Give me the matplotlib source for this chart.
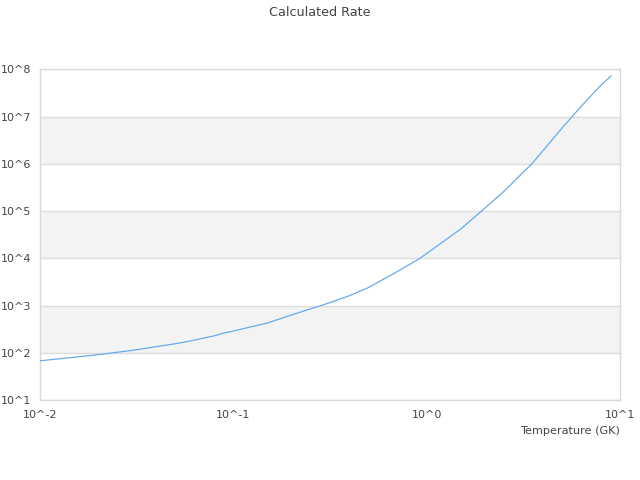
import matplotlib
matplotlib.use("Agg")
import matplotlib.pyplot as plt
import numpy as np

# Data
temperature = [0.01, 0.015, 0.02, 0.03, 0.04, 0.05, 0.06, 0.07, 0.08, 0.09,
               0.1, 0.15, 0.2, 0.3, 0.4, 0.5, 0.6, 0.7, 0.8, 0.9,
               1.0, 1.5, 2.0, 2.5, 3.0, 3.5, 4.0, 5.0, 6.0, 7.0, 8.0, 9.0]
log_rate = [1.83, 1.905, 1.96, 2.05, 2.13, 2.19, 2.25, 2.31, 2.36, 2.42,
            2.46, 2.63, 2.80, 3.03, 3.21, 3.38, 3.56, 3.71, 3.85, 3.97,
            4.10, 4.62, 5.06, 5.41, 5.73, 6.0, 6.28, 6.75, 7.12, 7.42, 7.67, 7.86]
rate = [10 ** v for v in log_rate]

xtick_values = [0.01, 0.1, 1, 10]
xtick_labels = ["10^-2", "10^-1", "10^0", "10^1"]
ytick_values = [1e1, 1e2, 1e3, 1e4, 1e5, 1e6, 1e7, 1e8]
ytick_labels = ["10^1", "10^2", "10^3", "10^4", "10^5", "10^6", "10^7", "10^8"]

title = "Calculated Rate"
xlabel = "Temperature (GK)"

text_color = "#444444"
fig = plt.figure(figsize=(6.4, 4.8), dpi=100)
ax = fig.add_axes([40 / 640, 80 / 480, 580 / 640, 330.7 / 480])
ax.set_xscale("log")
ax.set_yscale("log")
ax.set_xlim(0.01, 10)
ax.set_ylim(1e1, 1e8)

# alternating bands
for i in range(1, len(ytick_values) - 1, 2):
    ax.axhspan(ytick_values[i], ytick_values[i + 1], color="#f3f3f3", zorder=0, lw=0)
for v in ytick_values:
    ax.axhline(v, color="#dedede", lw=1, zorder=1)

ax.plot(temperature, rate, color="#66aaee", lw=0.9, zorder=3)

ax.set_xticks(xtick_values)
ax.set_xticklabels(xtick_labels)
ax.set_yticks(ytick_values)
ax.set_yticklabels(ytick_labels)
ax.minorticks_off()
ax.tick_params(axis="both", length=0, labelsize=8, labelcolor=text_color)
ax.tick_params(axis="x", pad=7)
ax.tick_params(axis="y", pad=6.5)
for s in ax.spines.values():
    s.set_color("#d9d9d9")
    s.set_linewidth(1)

fig.text(0.5, 1 - 12 / 480, title, ha="center", va="center", fontsize=9.2, color=text_color)
fig.text(620 / 640, 1 - 431 / 480, xlabel, ha="right", va="center", fontsize=8.1, color=text_color)

fig.savefig("out.png", dpi=100, facecolor="white")
